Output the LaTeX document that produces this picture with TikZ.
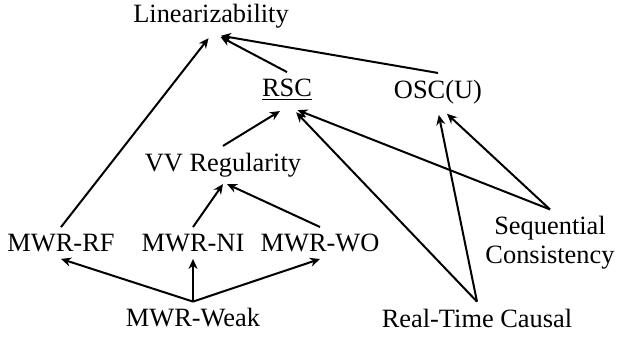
\documentclass[tikz,border=0pt]{standalone}
\usepackage{fontspec}
\setmainfont{Liberation Serif}
\usepackage{tikz}
\usetikzlibrary{arrows.meta, positioning}

\begin{document}
\begin{tikzpicture}[x=0.5pt, y=-0.5pt, node distance=2cm, on grid, auto,
    every node/.style={font=\fontsize{13.2}{14.5}\selectfont},
    >={Stealth[length=5pt, width=4.5pt, inset=1.6pt]}]
    \useasboundingbox (0,0) rectangle (622,337);
    % Nodes
    \node (lin) at (211,16) {Linearizability};
    \node (rsc) [below right=37pt and 38pt of lin] {\underline{RSC}};
    \node (osc) [right=75.5pt of rsc, yshift=-1pt] {OSC(U)};
    \node (vv) [below left=37.5pt and 32pt of rsc] {VV Regularity};
    \node (ni) [below left=39pt and 15pt of vv] {MWR-NI};
    \node (rf) [left=66pt of ni] {MWR-RF};
    \node (wo) [right=63.5pt of ni] {MWR-WO};
    \node (weak) [below=37.5pt of ni] {MWR-Weak};
    \node (sc) [right=115pt of wo, align=center] {Sequential\\Consistency};
    \node (rtc) [right=142pt of weak] {Real-Time Causal};

    % Arrows
    \draw[->, line width=1pt, shorten >=2pt] (rf.north) -- (lin.south);
    \draw[->, line width=1pt, shorten >=2pt] (rsc.north) -- ([xshift=3pt]lin.south);
    \draw[->, line width=1pt, shorten >=2pt] (osc.north) -- ([xshift=3pt]lin.south);
    \draw[->, line width=1pt, shorten >=3pt] (vv.north) -- ([xshift=-1pt]rsc.south);
    \draw[->, line width=1pt] (ni.north) -- (vv.south);
    \draw[->, line width=1pt] (wo.north) -- ([xshift=2pt]vv.south);
    \draw[->, line width=1pt] (weak.north) -- (rf.south);
    \draw[->, line width=1pt] (weak.north) -- (ni.south);
    \draw[->, line width=1pt] (weak.north) -- (wo.south);
    \draw[->, line width=1pt, shorten >=3pt] (sc.north) -- ([xshift=2.5pt]rsc.south);
    \draw[->, line width=1pt, shorten >=2pt] (sc.north) -- ([xshift=3pt]osc.south);
    \draw[->, line width=1pt, shorten >=3pt] (rtc.north) -- ([xshift=2.5pt]rsc.south);
    \draw[->, line width=1pt, shorten >=2pt] (rtc.north) -- (osc.south);
\end{tikzpicture}
\end{document}
